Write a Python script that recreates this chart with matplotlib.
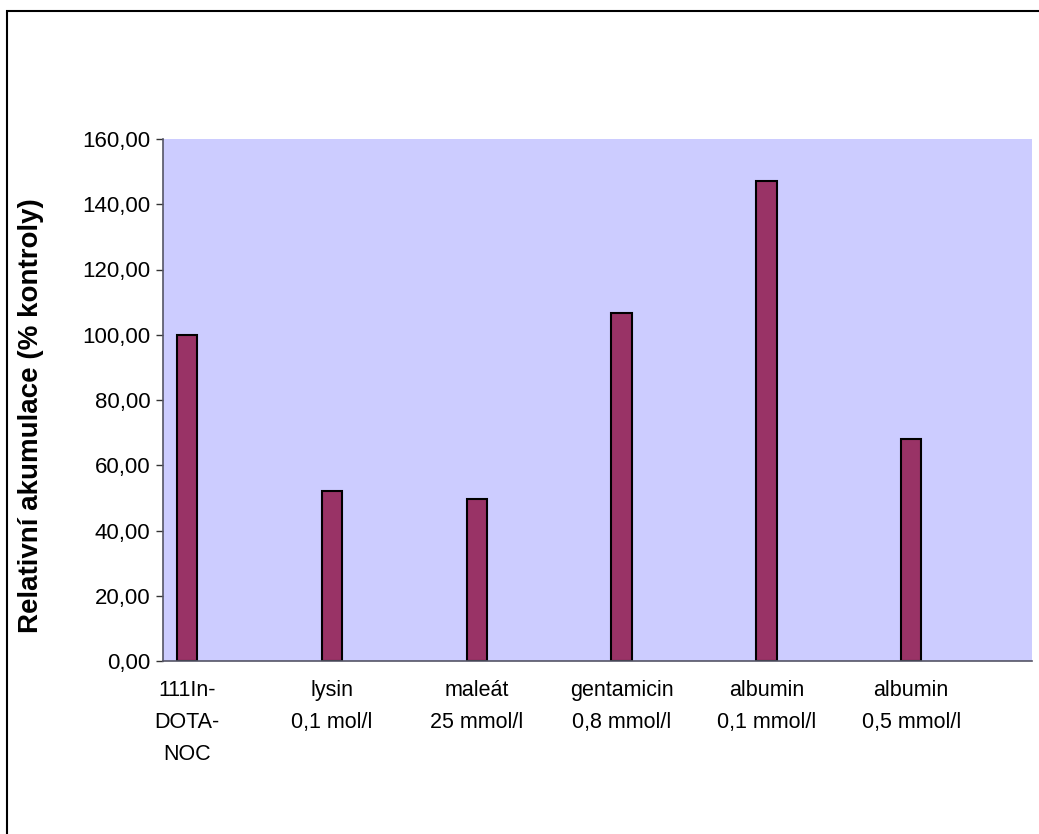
import matplotlib
matplotlib.use('Agg')
from matplotlib import pyplot as plt
from matplotlib.patches import Rectangle

plt.rcParams['font.family'] = ['Liberation Sans', 'DejaVu Sans']

labels = ['111In-\nDOTA-\nNOC', 'lysin\n0,1 mol/l', 'maleát\n25 mmol/l',
          'gentamicin\n0,8 mmol/l', 'albumin\n0,1 mmol/l', 'albumin\n0,5 mmol/l']
values = [100.0, 52.0, 49.6, 106.6, 147.2, 68.0]
yticks = [0, 20, 40, 60, 80, 100, 120, 140, 160]

W, H = 1039, 834
fig = plt.figure(figsize=(W / 100, H / 100), dpi=100)
ax = fig.add_axes([163 / W, 1 - 661 / H, (1032 - 163) / W, (661 - 139) / H])
ax.set_facecolor('#ccccff')

x = range(len(values))
ax.bar(x, values, width=0.14, color='#993366', edgecolor='black', linewidth=1.5)

ax.set_xlim(-0.166, 5.834)
ax.set_ylim(0, 160)
ax.set_yticks(yticks)
ax.set_yticklabels([f'{v:.2f}'.replace('.', ',') for v in yticks], fontsize=16)
ax.set_xticks(list(x))
ax.set_xticklabels(labels, fontsize=15.5, linespacing=1.68)
ax.tick_params(axis='x', length=0, pad=14)
ax.tick_params(axis='y', length=5, width=1, color='#333333', pad=4)

for side in ('top', 'right'):
    ax.spines[side].set_visible(False)
for side in ('left', 'bottom'):
    ax.spines[side].set_color('#555566')
    ax.spines[side].set_linewidth(1.2)

ax.set_ylabel('Relativní akumulace (% kontroly)', fontsize=20, fontweight='bold')
ax.yaxis.set_label_coords(-0.137, 0.47)

# chart frame running off the right and bottom edges
fig.add_artist(Rectangle((7 / W, -0.1), 1.2, 1 - 11 / H + 0.1,
                         transform=fig.transFigure, fill=False,
                         edgecolor='black', linewidth=1.5))

fig.savefig('out.png', dpi=100)
